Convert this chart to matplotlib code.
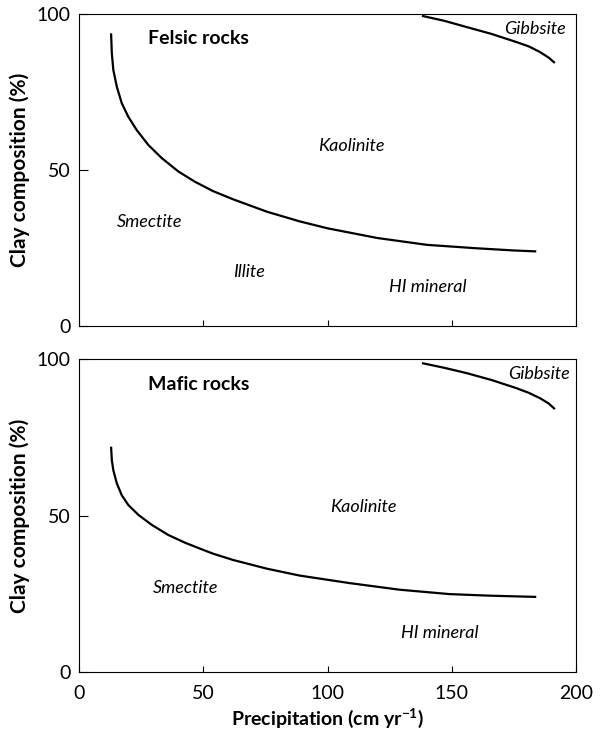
import matplotlib.pyplot as plt

plt.rcParams['font.family'] = ['Lato', 'DejaVu Sans']

# felsic rocks: smectite/illite vs kaolinite boundary
felsic_x = [12.9, 13.2, 13.8, 15.2, 17.2, 19.8, 23.2, 27.9, 33.3, 40.0, 46.7, 54.0,
            62.0, 75.7, 88.9, 100.0, 120.0, 140.0, 160.0, 175.0, 184.0]
felsic_y = [93.8, 87.4, 82.1, 76.7, 71.4, 67.1, 62.8, 58.0, 53.8, 49.5, 46.2, 43.2,
            40.6, 36.6, 33.5, 31.3, 28.2, 26.0, 24.9, 24.2, 23.9]
# felsic rocks: kaolinite vs gibbsite boundary
felsic_gib_x = [138.0, 147.0, 156.0, 166.0, 176.0, 181.0, 185.5, 189.0, 191.5]
felsic_gib_y = [99.4, 97.8, 95.8, 93.6, 91.0, 89.6, 87.8, 86.0, 84.3]

# mafic rocks: smectite vs kaolinite boundary
mafic_x = [12.9, 13.2, 13.8, 15.2, 17.2, 19.8, 23.9, 29.3, 35.9, 42.7, 49.4, 54.0,
           62.0, 75.7, 88.9, 109.0, 129.0, 149.0, 165.0, 184.0]
mafic_y = [72.0, 67.7, 64.5, 60.3, 56.5, 53.4, 50.2, 47.0, 43.8, 41.3, 39.2, 37.8,
           35.8, 33.0, 30.8, 28.4, 26.3, 24.9, 24.4, 24.0]
mafic_gib_x = [138.0, 147.0, 156.0, 166.0, 176.0, 181.0, 185.5, 189.0, 191.5]
mafic_gib_y = [98.7, 97.2, 95.5, 93.3, 90.7, 89.2, 87.5, 85.8, 84.0]

# panel labels (text, x, y)
felsic_labels = [("Smectite", 28.6, 33.3), ("Illite", 68.4, 17.3),
                 ("Kaolinite", 109.5, 57.7), ("HI mineral", 140.4, 12.5),
                 ("Gibbsite", 183.5, 95.2)]
mafic_labels = [("Smectite", 43.0, 26.8), ("Kaolinite", 114.5, 52.7),
                ("HI mineral", 145.0, 12.4), ("Gibbsite", 185.0, 95.2)]

fig = plt.figure(figsize=(6, 7.38), dpi=100)
ax1 = fig.add_axes([0.1317, 0.5583, 0.8283, 0.4228])
ax2 = fig.add_axes([0.1317, 0.0894, 0.8283, 0.4241])

panels = [
    (ax1, "Felsic rocks", felsic_x, felsic_y, felsic_gib_x, felsic_gib_y, felsic_labels),
    (ax2, "Mafic rocks", mafic_x, mafic_y, mafic_gib_x, mafic_gib_y, mafic_labels),
]

for ax, title, x, y, gx, gy, labels in panels:
    ax.plot(x, y, color='black', lw=1.6, solid_capstyle='butt', solid_joinstyle='round')
    ax.plot(gx, gy, color='black', lw=1.6, solid_capstyle='butt', solid_joinstyle='round')
    for txt, tx, ty in labels:
        ax.text(tx, ty, txt, style='italic', fontsize=13, ha='center', va='center')
    ax.text(27.8, 92.0, title, fontweight='bold', fontsize=14, ha='left', va='center')
    ax.set_xlim(0, 200)
    ax.set_ylim(0, 100)
    ax.set_xticks([0, 50, 100, 150, 200])
    ax.set_yticks([0, 50, 100])
    ax.tick_params(axis='x', direction='in', length=4.3, width=0.8, labelsize=14, pad=9)
    ax.tick_params(axis='y', direction='in', length=6.5, width=0.8, labelsize=14, pad=6)
    for s in ax.spines.values():
        s.set_linewidth(0.8)
    ax.set_ylabel("Clay composition (%)", fontweight='bold', fontsize=15, labelpad=5)

ax1.tick_params(axis='x', labelbottom=False)
ax2.set_xlabel("Precipitation (cm yr$^{\\mathregular{-1}}$)", fontweight='bold', fontsize=14,
               labelpad=3)

fig.savefig("out.png", dpi=100)
